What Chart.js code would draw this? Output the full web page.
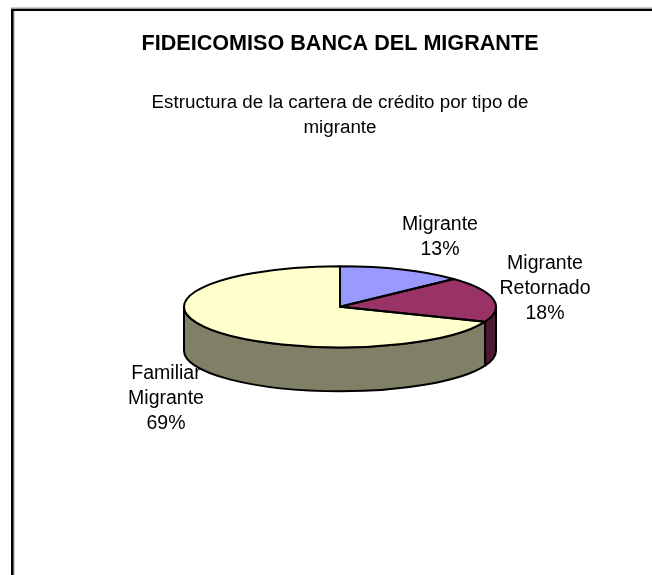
<!DOCTYPE html>
<html>
<head>
<meta charset="utf-8">
<script src="https://cdn.jsdelivr.net/npm/chart.js@4"></script>
<style>
html, body { margin: 0; padding: 0; background: #fff; }
#box { position: absolute; left: 0; top: 0; width: 652px; height: 575px; }
</style>
</head>
<body>
<div id="box"><canvas id="myChart" width="652" height="575"></canvas></div>
<script>
const titleText = "FIDEICOMISO BANCA DEL MIGRANTE";
const subtitleLines = ["Estructura de la cartera de crédito por tipo de", "migrante"];
const categories = ["Migrante", "Migrante Retornado", "Familiar Migrante"];
const shares = [13, 18, 69];
const sliceColors = ["#9999FF", "#993366", "#FFFFCC"];
const wallColors = ["#4D4D80", "#4D1A33", "#808066"];
const labelLines = [["Migrante", "13%"], ["Migrante", "Retornado", "18%"], ["Familiar", "Migrante", "69%"]];
const labelBaselines = [[440, 230], [545, 269], [166, 379]];

const squash = 0.26;
const depth = 44;
const fontName = '"Liberation Sans", Arial, sans-serif';

// the pie is squashed around its centre, so the outline keeps an even width
function traceTop(ctx, arc) {
    ctx.beginPath();
    ctx.moveTo(arc.x, arc.y);
    ctx.ellipse(arc.x, arc.y, arc.outerRadius, arc.outerRadius * squash, 0, arc.startAngle, arc.endAngle);
    ctx.closePath();
}

function traceWall(ctx, arc, from, to) {
    ctx.beginPath();
    ctx.ellipse(arc.x, arc.y, arc.outerRadius, arc.outerRadius * squash, 0, from, to);
    ctx.ellipse(arc.x, arc.y + depth, arc.outerRadius, arc.outerRadius * squash, 0, to, from, true);
    ctx.closePath();
}

const tiltedPie = {
    id: 'tiltedPie',
    beforeDatasetsDraw(chart) {
        const ctx = chart.ctx;
        const arcs = chart.getDatasetMeta(0).data;
        ctx.save();
        ctx.lineWidth = 2;
        ctx.strokeStyle = '#000';
        ctx.lineJoin = 'round';
        // only the front half of the rim can be seen
        arcs.forEach((arc, i) => {
            const from = Math.max(arc.startAngle, 0);
            const to = Math.min(arc.endAngle, Math.PI);
            if (to <= from) return;
            traceWall(ctx, arc, from, to);
            ctx.fillStyle = wallColors[i];
            ctx.fill();
            ctx.stroke();
        });
        ctx.restore();
        const first = arcs[0];
        ctx.save();
        ctx.translate(first.x, first.y);
        ctx.scale(1, squash);
        ctx.translate(-first.x, -first.y);
    },
    afterDatasetsDraw(chart) {
        const ctx = chart.ctx;
        ctx.restore();
        ctx.save();
        ctx.lineWidth = 2;
        ctx.strokeStyle = '#000';
        ctx.lineJoin = 'round';
        chart.getDatasetMeta(0).data.forEach(arc => {
            traceTop(ctx, arc);
            ctx.stroke();
        });
        ctx.restore();
        ctx.save();
        ctx.fillStyle = '#000';
        ctx.font = '19.5px ' + fontName;
        ctx.textAlign = 'center';
        ctx.textBaseline = 'alphabetic';
        labelLines.forEach((lines, i) => {
            lines.forEach((line, j) => {
                ctx.fillText(line, labelBaselines[i][0], labelBaselines[i][1] + j * 25);
            });
        });
        ctx.restore();
    }
};

// only the top and left edges of the frame are in the picture
const frame = {
    id: 'frame',
    beforeDraw(chart) {
        const ctx = chart.ctx;
        ctx.save();
        ctx.fillStyle = '#fff';
        ctx.fillRect(0, 0, chart.width, chart.height);
        ctx.fillStyle = '#999';
        ctx.fillRect(11, 7.5, chart.width - 11, 1.5);
        ctx.fillRect(13.5, 11, 1, chart.height - 11);
        ctx.fillStyle = '#000';
        ctx.fillRect(11, 9, chart.width - 11, 2);
        ctx.fillRect(11, 9, 2.5, chart.height - 9);
        ctx.restore();
    }
};

const ctx = document.getElementById('myChart');
new Chart(ctx, {
    type: 'pie',
    data: {
        labels: categories,
        datasets: [{
            data: shares,
            backgroundColor: sliceColors,
            borderWidth: 0,
            radius: 156,
            clip: false
        }]
    },
    options: {
        responsive: false,
        animation: false,
        layout: { padding: { left: 28, right: 0, top: 0, bottom: 102 } },
        plugins: {
            legend: { display: false },
            tooltip: { enabled: false },
            title: {
                display: true,
                text: titleText,
                color: '#000',
                font: { family: fontName, size: 21.6, weight: 'bold' },
                padding: { top: 31, bottom: 33.5 }
            },
            subtitle: {
                display: true,
                text: subtitleLines,
                color: '#000',
                font: { family: fontName, size: 18.8, weight: 'normal', lineHeight: 1.33 },
                padding: { top: 0, bottom: 0 }
            }
        }
    },
    plugins: [frame, tiltedPie]
});
</script>
</body>
</html>
